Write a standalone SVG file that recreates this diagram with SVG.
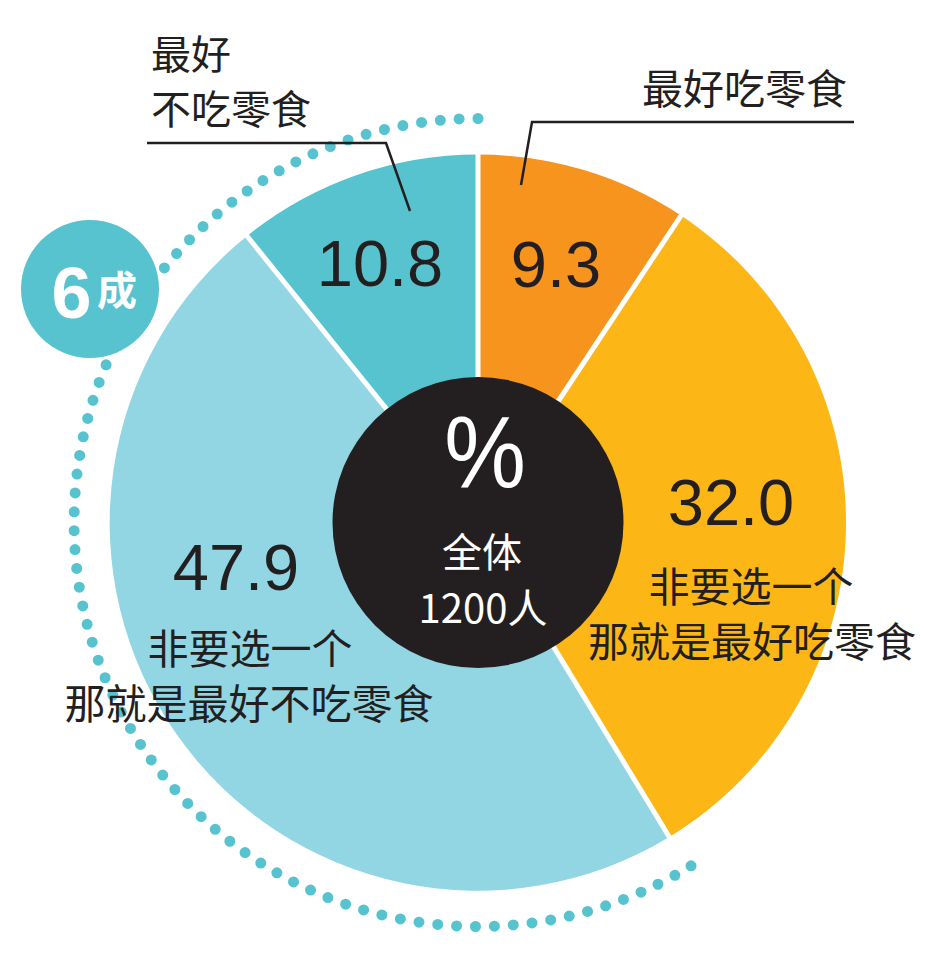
<svg xmlns="http://www.w3.org/2000/svg" width="948" height="961" viewBox="0 0 948 961">
<style>
.cjk{font-family:"Noto Sans CJK SC","Noto Sans",sans-serif;fill:#231F20;}
.num{font-family:"Liberation Sans",Arial,sans-serif;fill:#231F20;font-size:65px;text-anchor:middle;}
.lbl{font-size:41px;}
.sep{stroke:#FFFFFF;stroke-width:5;}
.lead{fill:none;stroke:#231F20;stroke-width:2.5;}
.w{fill:#FFFFFF;}
</style>
<rect width="948" height="961" fill="#FFFFFF"/>
<g id="dotted-arc">
<path d="M478 118.5 A404 404 0 1 0 693.3 864.4" fill="none" stroke="#56C3CE" stroke-width="11" stroke-linecap="round" stroke-dasharray="0 18.9"/>
</g>
<g id="slice-best-eat">
<path d="M478 522.5 L478 154.5 A368 368 0 0 1 681.0 215.6 Z" fill="#F7941D"/>
<text class="num" x="556" y="287">9.3</text>
</g>
<g id="slice-rather-eat">
<path d="M478 522.5 L681.0 215.6 A368 368 0 0 1 669.3 836.9 Z" fill="#FCB616"/>
<text class="num" x="731" y="525">32.0</text>
</g>
<g id="slice-rather-not-eat">
<path d="M478 522.5 L669.3 836.9 A368 368 0 0 1 247.0 236.0 Z" fill="#92D6E3"/>
<text class="num" x="236" y="590">47.9</text>
</g>
<g id="slice-best-not-eat">
<path d="M478 522.5 L247.0 236.0 A368 368 0 0 1 478 154.5 Z" fill="#56C3CE"/>
<text class="num" x="380" y="286">10.8</text>
</g>
<g id="separators">
<line class="sep" x1="478" y1="522.5" x2="478" y2="150"/>
<line class="sep" x1="478" y1="522.5" x2="683.5" y2="211.8"/>
<line class="sep" x1="478" y1="522.5" x2="671.6" y2="840.8"/>
<line class="sep" x1="478" y1="522.5" x2="244.2" y2="232.5"/>
</g>
<g id="center">
<circle cx="478" cy="522.5" r="145.5" fill="#231F20"/>
<text transform="translate(485,487) scale(0.9,1)" font-family="Liberation Sans,Arial,sans-serif" font-size="102" text-anchor="middle" class="w">%</text>
<text x="482" y="567" class="cjk" font-size="40" text-anchor="middle" style="fill:#FFFFFF">全体</text>
<text x="483" y="623" class="cjk" font-size="40" text-anchor="middle" style="fill:#FFFFFF">1200人</text>
</g>
<g id="badge">
<circle cx="90" cy="289" r="69" fill="#56C3CE"/>
<text x="71.5" y="318" font-family="Liberation Sans,Arial,sans-serif" font-weight="bold" font-size="72" text-anchor="middle" class="w">6</text>
<text x="97" y="305" class="cjk" font-weight="bold" font-size="40" style="fill:#FFFFFF">成</text>
</g>
<g id="connectors">
<polyline class="lead" points="147,143 386,143 410,211"/>
<polyline class="lead" points="854,122 532,122 521,185"/>
</g>
<g id="labels">
<text class="cjk" x="151" y="69" font-size="40">最好</text>
<text class="cjk" x="151" y="124" font-size="40">不吃零食</text>
<text class="cjk lbl" x="642" y="104">最好吃零食</text>
<text class="cjk lbl" x="751" y="602" text-anchor="middle">非要选一个</text>
<text class="cjk lbl" x="752" y="657" text-anchor="middle">那就是最好吃零食</text>
<text class="cjk lbl" x="250" y="664" text-anchor="middle">非要选一个</text>
<text class="cjk lbl" x="249" y="719" text-anchor="middle">那就是最好不吃零食</text>
</g>
</svg>
